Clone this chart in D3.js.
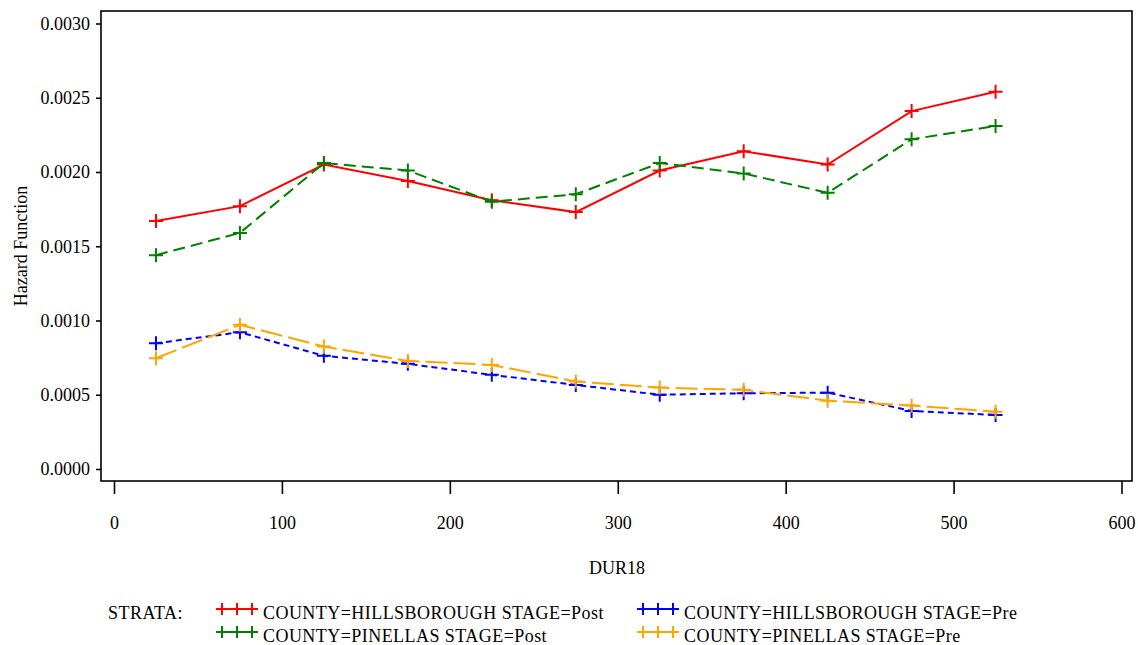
<!DOCTYPE html>
<html>
<head>
<meta charset="utf-8">
<script src="https://cdn.jsdelivr.net/npm/d3@7"></script>
<style>
  html, body { margin: 0; padding: 0; background: #fff; }
  svg { display: block; }
  text { font-family: "Liberation Serif", "Times New Roman", serif; fill: #000; }
</style>
</head>
<body>
<svg id="chart" width="1138" height="645"></svg>
<script>
// Interval midpoints of DUR18
const durations = [25, 75, 125, 175, 225, 275, 325, 375, 425, 475, 525];

// Hazard estimates per stratum
const hillsPost = [0.00167, 0.00177, 0.00205, 0.00194, 0.00181, 0.00173, 0.00201, 0.00214, 0.00205, 0.00241, 0.00254];
const pinelPost = [0.00144, 0.00159, 0.00206, 0.00201, 0.00180, 0.00185, 0.00206, 0.00199, 0.00186, 0.00222, 0.00231];
const hillsPre  = [0.000847, 0.000921, 0.000762, 0.000708, 0.000634, 0.000566, 0.000500, 0.000510, 0.000514, 0.000391, 0.000364];
const pinelPre  = [0.000746, 0.000971, 0.000825, 0.000728, 0.000701, 0.000589, 0.000548, 0.000533, 0.000460, 0.000427, 0.000386];

const xTicks = [0, 100, 200, 300, 400, 500, 600];
const yTicks = [0, 0.0005, 0.0010, 0.0015, 0.0020, 0.0025, 0.0030];

const strata = [
  { label: "COUNTY=HILLSBOROUGH STAGE=Post", values: hillsPost, color: "#ff0000", dash: null },
  { label: "COUNTY=HILLSBOROUGH STAGE=Pre",  values: hillsPre,  color: "#0000ff", dash: "6,4" },
  { label: "COUNTY=PINELLAS STAGE=Post",     values: pinelPost, color: "#008000", dash: "12,6" },
  { label: "COUNTY=PINELLAS STAGE=Pre",      values: pinelPre,  color: "#ffa500", dash: "22,6" }
];

const svg = d3.select("#chart");
svg.append("rect").attr("width", 1138).attr("height", 645).attr("fill", "#fff");

const frame = { left: 101, top: 11, right: 1132, bottom: 481 };

const x = d3.scaleLinear().domain([0, 600]).range([114, 1121.5]);
const y = d3.scaleLinear().domain([0, 0.003]).range([469, 23.5]);

// Plot frame
svg.append("rect")
  .attr("x", frame.left).attr("y", frame.top)
  .attr("width", frame.right - frame.left).attr("height", frame.bottom - frame.top)
  .attr("fill", "none").attr("stroke", "#000").attr("stroke-width", 1.6);

// Y axis
const yAxis = svg.append("g")
  .attr("transform", `translate(${frame.left},0)`)
  .call(d3.axisLeft(y).tickValues(yTicks).tickFormat(d3.format(".4f")).tickSize(5).tickPadding(6));
yAxis.select(".domain").remove();
yAxis.selectAll(".tick line").attr("stroke", "#000").attr("stroke-width", 1.6);
yAxis.selectAll(".tick text").style("font-size", "18px").style("font-family", "Liberation Serif, serif").attr("fill", "#000");

// X axis
const xAxis = svg.append("g")
  .attr("transform", `translate(0,${frame.bottom})`)
  .call(d3.axisBottom(x).tickValues(xTicks).tickFormat(d3.format("d")).tickSize(13).tickPadding(22));
xAxis.select(".domain").remove();
xAxis.selectAll(".tick line").attr("stroke", "#000").attr("stroke-width", 1.6);
xAxis.selectAll(".tick text").style("font-size", "18px").style("font-family", "Liberation Serif, serif").attr("fill", "#000");

// Axis titles
svg.append("text")
  .attr("transform", "translate(27,246) rotate(-90)")
  .attr("text-anchor", "middle")
  .style("font-size", "18px")
  .text("Hazard Function");

svg.append("text")
  .attr("x", 617).attr("y", 574)
  .attr("text-anchor", "middle")
  .style("font-size", "18px")
  .text("DUR18");

// Plus-sign marker path
const plus = (s) => `M${-s},0H${s}M0,${-s}V${s}`;

const line = d3.line()
  .x((d, i) => x(durations[i]))
  .y(d => y(d));

// Draw Post lines first, then Pre
const drawOrder = [strata[0], strata[2], strata[1], strata[3]];
drawOrder.forEach(s => {
  svg.append("path")
    .datum(s.values)
    .attr("d", line)
    .attr("fill", "none")
    .attr("stroke", s.color)
    .attr("stroke-width", 2)
    .attr("stroke-dasharray", s.dash);
  svg.append("g").selectAll("path")
    .data(s.values)
    .join("path")
    .attr("transform", (d, i) => `translate(${x(durations[i])},${y(d)})`)
    .attr("d", plus(7))
    .attr("stroke", s.color)
    .attr("stroke-width", 2)
    .attr("fill", "none");
});

// Legend
svg.append("text")
  .attr("x", 108).attr("y", 619)
  .style("font-size", "18px")
  .style("letter-spacing", "0.5px")
  .text("STRATA:");

const legendPos = [
  { x: 217, y: 609 },  // Hillsborough Post
  { x: 638, y: 609 },  // Hillsborough Pre
  { x: 217, y: 632 },  // Pinellas Post
  { x: 638, y: 632 }   // Pinellas Pre
];

strata.forEach((s, k) => {
  const p = legendPos[k];
  const g = svg.append("g").attr("transform", `translate(${p.x},${p.y})`);
  g.append("line")
    .attr("x1", 0).attr("x2", 40).attr("y1", 0).attr("y2", 0)
    .attr("stroke", s.color).attr("stroke-width", 2);
  [5, 20, 35].forEach(cx => {
    g.append("path")
      .attr("transform", `translate(${cx},0)`)
      .attr("d", plus(6))
      .attr("stroke", s.color).attr("stroke-width", 2).attr("fill", "none");
  });
  svg.append("text")
    .attr("x", p.x + 46).attr("y", p.y + 10)
    .style("font-size", "18px")
    .style("letter-spacing", "0.45px")
    .text(s.label);
});
</script>
</body>
</html>
